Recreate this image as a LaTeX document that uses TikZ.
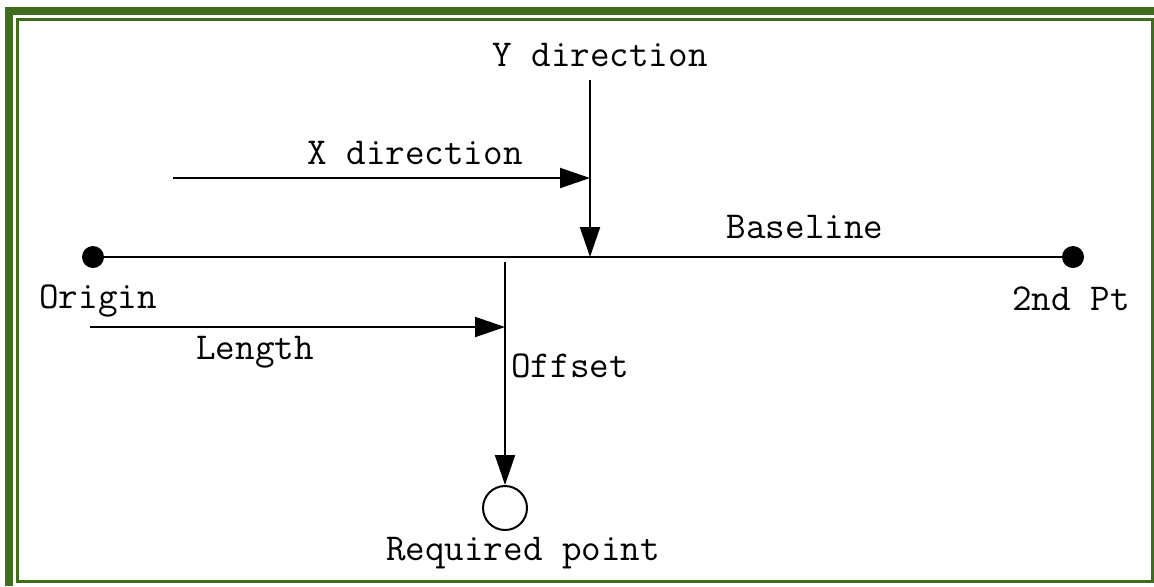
\documentclass[tikz,border=0pt]{standalone}
\usepackage{fontspec}
\usepackage{xcolor}
\usetikzlibrary{arrows.meta, positioning}
\definecolor{framegreen}{HTML}{416C1E}

\begin{document}
\begin{tikzpicture}[
    x=0.5pt, y=-0.5pt,
    lbl/.style={inner sep=0pt, font=\fontsize{19}{22}\selectfont\ttfamily},
    pt/.style={circle, fill=black, inner sep=0pt, minimum size=11pt},
    goal/.style={circle, draw=black, line width=1pt, fill=white, inner sep=0pt, minimum size=22pt},
    ln/.style={line width=1pt, color=black},
    arr/.style={-{Triangle[length=15pt, width=10pt]}, line width=1pt, color=black}
]
\useasboundingbox (0,0) rectangle (1154,586);

% frame
\draw[framegreen, line width=4pt] (9,586) -- (9,11) -- (1154,11);
\draw[framegreen, line width=1.5pt] (17.5,19.5) rectangle (1152.5,581.5);

% end points of the baseline
\node[pt] (origin) at (93,257) {};
\node[pt] (second) at (1073,257) {};
\node[lbl, below=8pt of origin, xshift=2.5pt] (origintxt) {Origin};
\node[lbl, below=9pt of second, xshift=-1pt] (secondtxt) {2nd Pt};

% required point
\node[goal] (req) at (505,508) {};
\node[lbl, below=3pt of req, xshift=9pt] (reqtxt) {Required point};

% labels
\node[lbl] (basetxt) at (805,227) {Baseline};
\node[lbl] (ytxt) at (600,55) {Y direction};
\node[lbl] (xtxt) at (415,153) {X direction};
\node[lbl] (lentxt) at (255,352) {Length};
\node[lbl] (offtxt) at (570,366) {Offset};

\coordinate (ytop) at (590,80);
\coordinate (ybase) at (590,257);
\coordinate (xstart) at (173,178);
\coordinate (xend) at (ybase |- xstart);
\coordinate (offtop) at (505,262);
\coordinate (lenstart) at (90,327);
\coordinate (lenend) at (offtop |- lenstart);

% baseline and directions
\draw[ln] (origin) -- (second);
\draw[arr] (ytop) -- (ybase);
\draw[arr] (xstart) -- (xend);

% length and offset
\draw[arr] (lenstart) -- (lenend);
\draw[arr] (offtop) -- (req);

\end{tikzpicture}
\end{document}
